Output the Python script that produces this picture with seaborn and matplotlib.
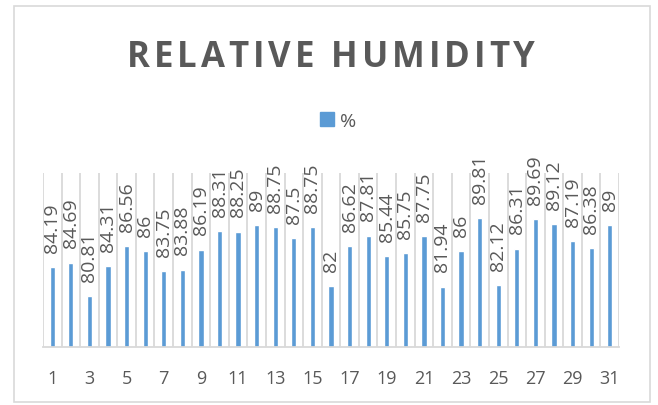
import numpy as np
import pandas as pd
import matplotlib
matplotlib.use("Agg")
import matplotlib.pyplot as plt
import seaborn as sns
from matplotlib.patches import Rectangle, Patch

days = list(range(1, 32))
humidity = [84.19, 84.69, 80.81, 84.31, 86.56, 86, 83.75, 83.88, 86.19, 88.31,
            88.25, 89, 88.75, 87.5, 88.75, 82, 86.62, 87.81, 85.44, 85.75,
            87.75, 81.94, 86, 89.81, 82.12, 86.31, 89.69, 89.12, 87.19, 86.38, 89]
series_name = "%"
title = "RELATIVE HUMIDITY"

df = pd.DataFrame({"day": days, "value": humidity})

sns.set_style("white")
plt.rcParams["font.family"] = ["Open Sans", "DejaVu Sans"]

text_color = "#595959"
grid_color = "#D9D9D9"
bar_color = "#5B9BD5"

fig = plt.figure(figsize=(6.58, 4.06), dpi=100)
ax = fig.add_axes([43 / 658, 58 / 406, 576 / 658, 174 / 406])

sns.barplot(data=df, x="day", y="value", color=bar_color, width=0.28,
            saturation=1, ax=ax)

ax.set_ylim(75, 95)
ax.set_xlim(-0.5, len(days) - 0.5)

# category boundary gridlines
for b in np.arange(-0.5, len(days), 1.0):
    ax.axvline(b, color=grid_color, lw=1.3, zorder=0)

ax.set_xticks(range(0, len(days), 2))
ax.set_xticklabels([str(d) for d in days[::2]], fontsize=13, color=text_color)
ax.tick_params(axis="x", length=0, pad=16)
ax.set_yticks([])
ax.set_xlabel("")
ax.set_ylabel("")
for s in ["top", "left", "right"]:
    ax.spines[s].set_visible(False)
ax.spines["bottom"].set_color(grid_color)
ax.spines["bottom"].set_linewidth(1.3)

ax.bar_label(ax.containers[0], labels=[f"{v:g}" for v in humidity],
             rotation=90, padding=11, fontsize=14, color=text_color)

# title with wider letter spacing, like the spreadsheet chart
renderer = fig.canvas.get_renderer()
title_kw = dict(fontsize=25, fontweight="bold", color=text_color)
extra = 3.9
widths = []
for ch in title:
    if ch == " ":
        widths.append(9.0)
        continue
    t = fig.text(0, 0, ch, **title_kw)
    widths.append(t.get_window_extent(renderer).width)
    t.remove()
total = sum(widths) + extra * (len(title) - 1)
x = 331 - total / 2
for ch, w in zip(title, widths):
    if ch != " ":
        fig.text(x / 658, 1 - 67 / 406, ch, ha="left", va="baseline", **title_kw)
    x += w + extra

fig.legend(handles=[Patch(color=bar_color, label=series_name)],
           loc="center", bbox_to_anchor=(0.514, 0.70), frameon=False,
           fontsize=14, handlelength=0.72, handleheight=0.72, handletextpad=0.35,
           labelcolor=text_color)

fig.patches.append(Rectangle((14 / 658, 3 / 406), 636 / 658, 396 / 406,
                             transform=fig.transFigure, fill=False,
                             edgecolor=grid_color, lw=1.2))

fig.savefig("out.png", dpi=100)
